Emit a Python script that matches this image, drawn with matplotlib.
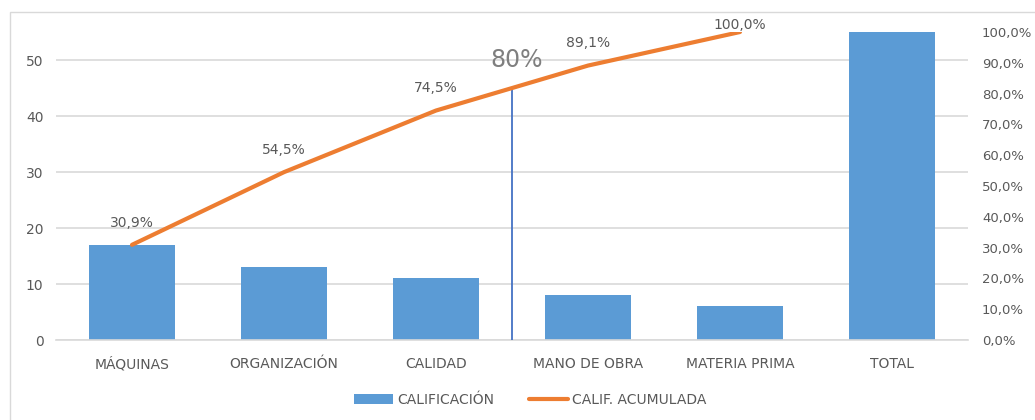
import matplotlib.pyplot as plt
from matplotlib.patches import Rectangle
import numpy as np

categories = ['MÁQUINAS', 'ORGANIZACIÓN', 'CALIDAD', 'MANO DE OBRA', 'MATERIA PRIMA', 'TOTAL']
calificacion = [17, 13, 11, 8, 6, 55]
acumulada = [0.309, 0.545, 0.745, 0.891, 1.0]
acum_labels = ['30,9%', '54,5%', '74,5%', '89,1%', '100,0%']
cut_pos = 2.5
cut_text = '80%'

blue = '#5B9BD5'
orange = '#ED7D31'
txt = '#595959'
grid = '#D9D9D9'

plt.rcParams['font.family'] = 'DejaVu Sans'

fig = plt.figure(figsize=(10.35, 4.2), dpi=100)
fig.patches.append(Rectangle((10 / 1035, -0.1), 1.2, 1 - 12 / 420 + 0.1,
                             transform=fig.transFigure, fill=False,
                             edgecolor=grid, lw=1, zorder=0))

ax = fig.add_axes([56 / 1035, 80 / 420, 912 / 1035, 308 / 420])
x = np.arange(len(categories))
bars = ax.bar(x, calificacion, width=0.56, color=blue, label='CALIFICACIÓN', zorder=2)
ax.set_xlim(-0.5, len(categories) - 0.5)
ax.set_ylim(0, 55)
ax.set_yticks(range(0, 60, 10))
ax.yaxis.grid(True, color=grid, lw=1.2, zorder=0)
ax.set_axisbelow(True)
for s in ['top', 'right', 'left']:
    ax.spines[s].set_visible(False)
ax.spines['bottom'].set_color(grid)
ax.spines['bottom'].set_linewidth(1.2)
ax.tick_params(axis='both', length=0, colors=txt, labelsize=10)
ax.tick_params(axis='y', pad=9)
ax.tick_params(axis='x', pad=12)
ax.set_xticks(x)
ax.set_xticklabels(categories)

ax2 = ax.twinx()
ax2.set_ylim(0, 1)
ax2.set_yticks(np.arange(0, 1.01, 0.1))
ax2.set_yticklabels([f'{v:.1f}%'.replace('.', ',') for v in np.arange(0, 101, 10)])
ax2.tick_params(axis='y', length=0, colors=txt, labelsize=9.5, pad=10)
for s in ax2.spines.values():
    s.set_visible(False)

xl = x[:len(acumulada)]
line, = ax2.plot(xl, acumulada, color=orange, lw=3, solid_capstyle='round',
                 label='CALIF. ACUMULADA', zorder=3)
# last label sits just above the line end (kept inside the plot area)
offsets = [16, 16, 16, 16, 5]
for xi, yi, lab, off in zip(xl, acumulada, acum_labels, offsets):
    ax2.annotate(lab, (xi, yi), xytext=(0, off), textcoords='offset points',
                 ha='center', va='center', color=txt, fontsize=10)

cut_y = np.interp(cut_pos, xl, acumulada)
ax2.plot([cut_pos, cut_pos], [0, cut_y], color='#4472C4', lw=1.3, zorder=2)
ax2.annotate(cut_text, (cut_pos, cut_y), xytext=(3, 20), textcoords='offset points',
             ha='center', va='center', color='#7F7F7F', fontsize=17)

fig.legend(handles=[bars, line], loc='center', bbox_to_anchor=(530 / 1035, 20 / 420),
           ncol=2, frameon=False, fontsize=10, labelcolor=txt,
           handlelength=2.8, columnspacing=2.5, handletextpad=0.3)

fig.savefig('out.png', dpi=100)
